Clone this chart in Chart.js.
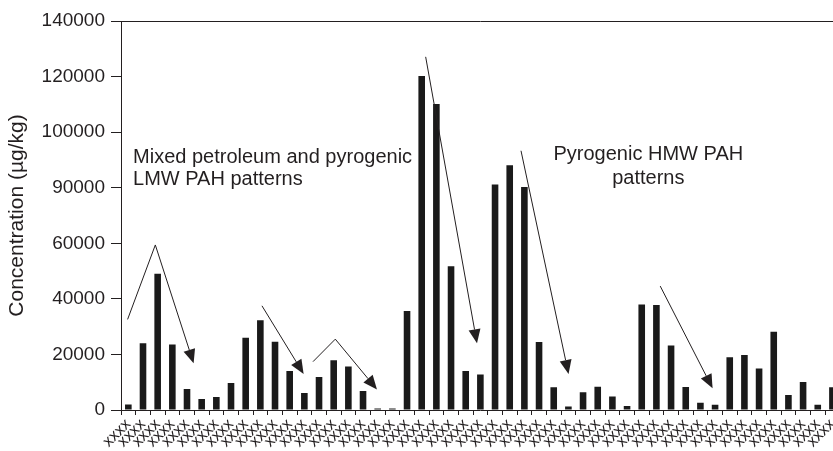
<!DOCTYPE html>
<html>
<head>
<meta charset="utf-8">
<script src="https://cdn.jsdelivr.net/npm/chart.js@4/dist/chart.umd.min.js"></script>
<style>
  html, body { margin: 0; padding: 0; background: #fff; overflow: hidden; }
  #wrap { width: 833px; height: 451px; overflow: hidden; }
  #box { width: 846px; height: 451px; }
</style>
</head>
<body>
<div id="wrap"><div id="box"><canvas id="chart"></canvas></div></div>
<script>
// ─────────────────────────────
// DATA
// ─────────────────────────────
const samples = [];
for (let i = 0; i < 49; i++) samples.push("xxxx");

const concentration = [
    2000, 24000, 49000, 23600, 7600, 4000, 4700, 9700, 26000, 32300,
    24600, 14000, 6100, 11900, 17900, 15700, 6800, 500, 500, 35600,
    120200, 110100, 51700, 14000, 12800, 81200, 88100, 80300, 24500, 8200,
    1300, 6400, 8400, 4900, 1400, 38000, 37800, 23200, 8300, 2600,
    1900, 19000, 19800, 14900, 28200, 5400, 10100, 1900, 8200
];

// the source figure really prints 90000 where 80000 should be
const yTickLabels = ["0", "20000", "40000", "60000", "90000", "100000", "120000", "140000"];

// arrows as [category index, value] points, last point gets the head
const arrows = [
    [[-0.05, 32600], [1.84, 59400], [4.45, 16800]],
    [[9.11, 37500], [11.95, 13000]],
    [[12.59, 17400], [14.11, 25500], [16.95, 7400]],
    [[20.27, 127100], [23.77, 24000]],
    [[26.77, 93300], [30.01, 13000]],
    [[36.26, 44600], [39.83, 7800]]
];

const notes = [
    { lines: ["Mixed petroleum and pyrogenic", "LMW PAH patterns"], x: 0.32, y: [91000, 82800], align: "left" },
    { lines: ["Pyrogenic HMW PAH", "patterns"], x: 35.45, y: [91800, 83500], align: "center" }
];

const INK = "#231f20";
const FONT = "'Liberation Sans', Arial, sans-serif";

// ─────────────────────────────
// ANNOTATIONS PLUGIN
// ─────────────────────────────
const annotate = {
    id: "annotate",
    afterDatasetsDraw(chart) {
        const { ctx, chartArea, scales } = chart;
        const sx = scales.x, sy = scales.y;

        ctx.save();
        // top frame line
        ctx.strokeStyle = INK;
        ctx.lineWidth = 1;
        ctx.beginPath();
        ctx.moveTo(chartArea.left, chartArea.top + 0.5);
        ctx.lineTo(chartArea.right, chartArea.top + 0.5);
        ctx.stroke();

        // arrows
        ctx.fillStyle = INK;
        arrows.forEach(pts => {
            const p = pts.map(q => [sx.getPixelForValue(q[0]), sy.getPixelForValue(q[1])]);
            const n = p.length;
            const tip = p[n - 1], prev = p[n - 2];
            const ang = Math.atan2(tip[1] - prev[1], tip[0] - prev[0]);
            const headLen = 14, headW = 6;
            const bx = tip[0] - headLen * Math.cos(ang), by = tip[1] - headLen * Math.sin(ang);

            ctx.beginPath();
            ctx.moveTo(p[0][0], p[0][1]);
            for (let i = 1; i < n - 1; i++) ctx.lineTo(p[i][0], p[i][1]);
            ctx.lineTo(bx, by);
            ctx.stroke();

            ctx.beginPath();
            ctx.moveTo(tip[0], tip[1]);
            ctx.lineTo(bx + headW * Math.sin(ang), by - headW * Math.cos(ang));
            ctx.lineTo(bx - headW * Math.sin(ang), by + headW * Math.cos(ang));
            ctx.closePath();
            ctx.fill();
        });

        // text notes
        ctx.font = "20px " + FONT;
        ctx.textBaseline = "middle";
        notes.forEach(nt => {
            ctx.textAlign = nt.align;
            const x = sx.getPixelForValue(nt.x);
            nt.lines.forEach((t, i) => ctx.fillText(t, x, sy.getPixelForValue(nt.y[i])));
        });
        ctx.restore();
    }
};

// ─────────────────────────────
// CHART
// ─────────────────────────────
new Chart(document.getElementById("chart"), {
    type: "bar",
    data: {
        labels: samples,
        datasets: [{
            data: concentration,
            backgroundColor: "#1a1a1a",
            barPercentage: 0.45,
            categoryPercentage: 1.0
        }]
    },
    options: {
        responsive: true,
        maintainAspectRatio: false,
        animation: false,
        layout: { padding: { top: 21, left: 0, right: 0, bottom: 0 } },
        plugins: { legend: { display: false }, tooltip: { enabled: false } },
        scales: {
            x: {
                grid: { display: true, drawOnChartArea: false, offset: true, tickLength: 5, color: INK },
                border: { color: INK, width: 1 },
                ticks: {
                    color: INK, font: { family: FONT, size: 16 },
                    minRotation: 45, maxRotation: 45, autoSkip: false, padding: 0
                },
                afterFit(scale) { scale.height = 41; }
            },
            y: {
                min: 0, max: 140000,
                grid: { display: true, drawOnChartArea: false, tickLength: 10, color: INK },
                border: { color: INK, width: 1 },
                ticks: {
                    stepSize: 20000, color: INK, padding: 6,
                    font: { family: FONT, size: 19 },
                    callback: (v, i) => yTickLabels[i]
                },
                title: {
                    display: true, text: "Concentration (µg/kg)", color: INK,
                    font: { family: FONT, size: 21 }, padding: { top: 5, bottom: 0 }
                },
                afterFit(scale) { scale.width = 121; }
            }
        }
    },
    plugins: [annotate]
});
</script>
</body>
</html>
